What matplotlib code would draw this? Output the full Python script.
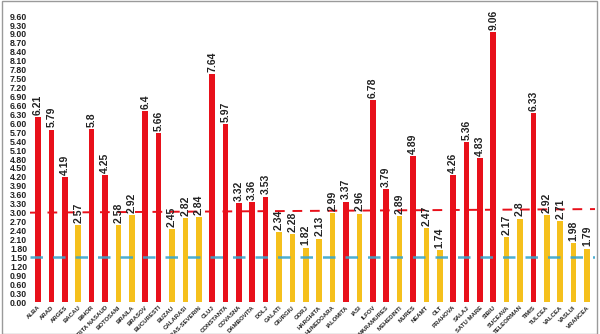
import matplotlib
matplotlib.use("Agg")
import matplotlib.pyplot as plt
from matplotlib.patches import Rectangle

counties = ["ALBA", "ARAD", "ARGES", "BACAU", "BIHOR", "BISTRITA NASAUD", "BOTOSANI",
            "BRAILA", "BRASOV", "BUCURESTI", "BUZAU", "CALARASI", "CARAS-SEVERIN", "CLUJ",
            "CONSTANTA", "COVASNA", "DAMBOVITA", "DOLJ", "GALATI", "GIURGIU", "GORJ",
            "HARGHITA", "HUNEDOARA", "IALOMITA", "IASI", "ILFOV", "MARAMURES", "MEHEDINTI",
            "MURES", "NEAMT", "OLT", "PRAHOVA", "SALAJ", "SATU MARE", "SIBIU", "SUCEAVA",
            "TELEORMAN", "TIMIS", "TULCEA", "VALCEA", "VASLUI", "VRANCEA"]
rates = [6.21, 5.79, 4.19, 2.57, 5.8, 4.25, 2.58, 2.92, 6.4, 5.66, 2.45, 2.82, 2.84,
         7.64, 5.97, 3.32, 3.36, 3.53, 2.34, 2.28, 1.82, 2.13, 2.99, 3.37, 2.96, 6.78,
         3.79, 2.89, 4.89, 2.47, 1.74, 4.26, 5.36, 4.83, 9.06, 2.17, 2.8, 6.33, 2.92,
         2.71, 1.98, 1.79]
red_line = [3.0, 3.12]   # left / right end of the red dashed threshold
blue_line = 1.5
yticks = [i * 0.3 for i in range(33)]

RED = "#e8101a"
YELLOW = "#f5c01c"

plt.rcParams["font.family"] = ["Liberation Sans", "DejaVu Sans"]

fig = plt.figure(figsize=(6.0, 3.34), dpi=100)
ax = fig.add_axes([0.05, 0.0958, 0.9417, 0.856])

x = list(range(len(counties)))
colors = [RED if v > 3 else YELLOW for v in rates]
ax.bar(x, rates, width=0.42, color=colors, zorder=2)

for xi, v in zip(x, rates):
    ax.text(xi, v + 0.08, str(v), rotation=90, ha="center", va="bottom",
            fontsize=7.5, fontweight="bold", color="#222222", clip_on=False, zorder=4)

ax.plot([-0.6, len(counties) - 0.4], red_line, color=RED, lw=1.4,
        dashes=(5, 4), zorder=3)
ax.axhline(blue_line, color="#3aa6cc", lw=1.8, dashes=(5, 4), alpha=0.9, zorder=3)

ax.set_xlim(-0.6, len(counties) - 0.4)
ax.set_ylim(0, 9.6)
ax.set_yticks(yticks)
ax.set_yticklabels([f"{t:.2f}" for t in yticks], fontsize=6.3, fontweight="bold")
ax.set_xticks(x)
ax.set_xticklabels(counties, rotation=45, ha="right", rotation_mode="anchor",
                   fontsize=4.3, fontweight="bold")
ax.tick_params(axis="both", length=0, pad=2, colors="#222222")
for s in ax.spines.values():
    s.set_visible(False)

fig.patches.append(Rectangle((0.004, 0.0), 0.991, 0.998, transform=fig.transFigure,
                             fill=False, edgecolor="#9a9a9a", lw=1.0))

fig.savefig("out.png", dpi=100)
